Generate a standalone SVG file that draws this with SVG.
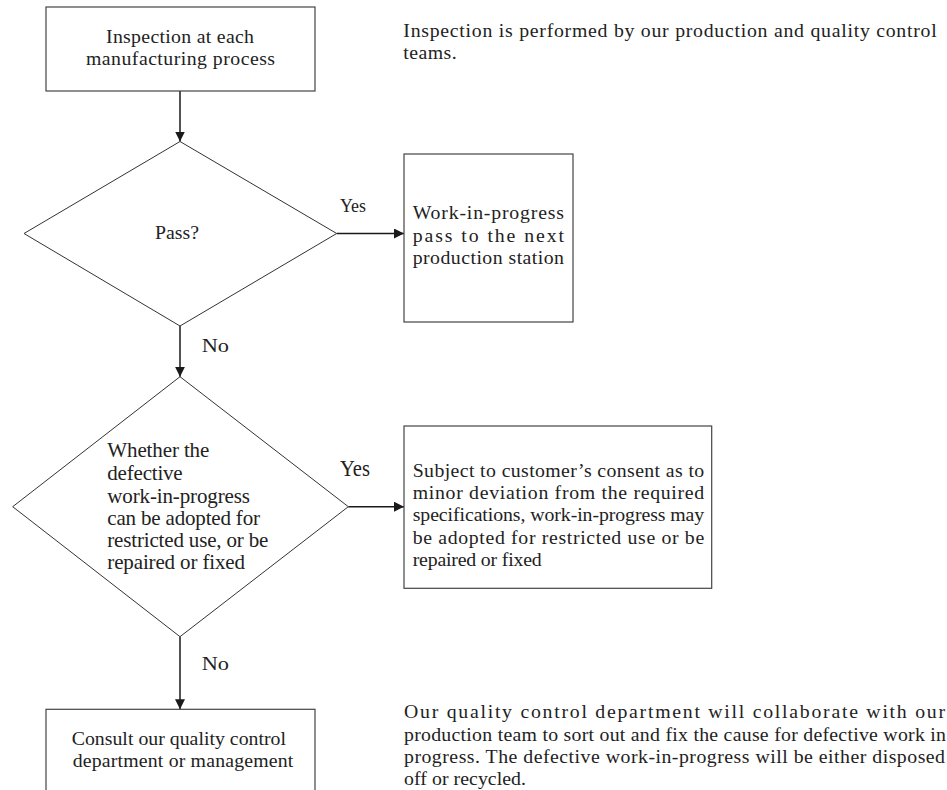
<svg xmlns="http://www.w3.org/2000/svg" width="947" height="790" viewBox="0 0 947 790">
  <style>
    .box { fill: #ffffff; stroke: #444444; stroke-width: 1.2; }
    .dec { fill: #ffffff; stroke: #333333; stroke-width: 1; }
    .edge { fill: none; stroke: #1a1a1a; stroke-width: 1.5; }
    text { font-family: "Liberation Serif", "Times New Roman", serif; font-size: 19.8px; fill: #222222; }
    .big { font-size: 21px; }
  </style>
  <defs>
    <marker id="arrow" markerUnits="userSpaceOnUse" markerWidth="12" markerHeight="12" refX="10" refY="5" orient="auto">
      <path d="M0,0 L10,5 L0,10 Z" fill="#1a1a1a"/>
    </marker>
  </defs>
  <rect width="947" height="790" fill="#ffffff"/>

  <!-- connectors -->
  <g id="connectors">
    <path class="edge" d="M180,91 L180,141.5" marker-end="url(#arrow)"/>
    <path class="edge" d="M336.7,233.5 L404,233.5" marker-end="url(#arrow)"/>
    <path class="edge" d="M180,326 L180,376.7" marker-end="url(#arrow)"/>
    <path class="edge" d="M348.3,506.7 L404,506.7" marker-end="url(#arrow)"/>
    <path class="edge" d="M180,636.7 L180,709.3" marker-end="url(#arrow)"/>
    <text x="340" y="212" textLength="26" lengthAdjust="spacingAndGlyphs">Yes</text>
    <text x="201.7" y="351.7" textLength="27.3" lengthAdjust="spacingAndGlyphs">No</text>
    <text x="340" y="476" textLength="30" lengthAdjust="spacingAndGlyphs" style="font-size:22.5px">Yes</text>
    <text x="201.7" y="669.5" textLength="27.3" lengthAdjust="spacingAndGlyphs">No</text>
  </g>

  <!-- inspection start -->
  <g id="inspect">
    <rect class="box" x="46" y="7" width="269" height="84"/>
    <text x="106" y="43" textLength="148" lengthAdjust="spacing">Inspection at each</text>
    <text x="86" y="65" textLength="189" lengthAdjust="spacing">manufacturing process</text>
  </g>

  <!-- first decision -->
  <g id="pass">
    <polygon class="dec" points="180,141.5 336.7,233.5 180,326 24,233.5"/>
    <text x="155" y="239" textLength="44" lengthAdjust="spacing">Pass?</text>
  </g>

  <!-- passed work -->
  <g id="next-station">
    <rect class="box" x="404" y="154" width="169" height="168"/>
    <text x="412.7" y="219.3" textLength="151.3" lengthAdjust="spacing">Work-in-progress</text>
    <text x="412.7" y="241.7" textLength="151.3" lengthAdjust="spacing">pass to the next</text>
    <text x="412.7" y="264" textLength="151.3" lengthAdjust="spacing">production station</text>
  </g>

  <!-- second decision -->
  <g id="adopt">
    <polygon class="dec" points="180,376.7 348.3,506.7 180,636.7 12.7,506.7"/>
    <text class="big" x="107.3" y="457.3" textLength="102" lengthAdjust="spacing">Whether the</text>
    <text class="big" x="107.3" y="480" textLength="75.4" lengthAdjust="spacing">defective</text>
    <text class="big" x="107.3" y="502.7" textLength="142.7" lengthAdjust="spacing">work-in-progress</text>
    <text class="big" x="107.3" y="524.5" textLength="152.7" lengthAdjust="spacing">can be adopted for</text>
    <text class="big" x="107.3" y="546.7" textLength="161" lengthAdjust="spacing">restricted use, or be</text>
    <text class="big" x="107.3" y="569.3" textLength="137.7" lengthAdjust="spacing">repaired or fixed</text>
  </g>

  <!-- restricted use -->
  <g id="restricted-use">
    <rect class="box" x="404" y="426" width="307.7" height="162.3"/>
    <text x="412.7" y="476.7" textLength="291.5" lengthAdjust="spacing">Subject to customer’s consent as to</text>
    <text x="412.7" y="499" textLength="291.5" lengthAdjust="spacing">minor deviation from the required</text>
    <text x="412.7" y="521.3" textLength="291.5" lengthAdjust="spacing">specifications, work-in-progress may</text>
    <text x="412.7" y="543.6" textLength="291.5" lengthAdjust="spacing">be adopted for restricted use or be</text>
    <text x="412.7" y="566" textLength="129" lengthAdjust="spacing">repaired or fixed</text>
  </g>

  <!-- consult -->
  <g id="consult">
    <rect class="box" x="46" y="709.3" width="269" height="100"/>
    <text x="71.7" y="745" textLength="214.3" lengthAdjust="spacing">Consult our quality control</text>
    <text x="72.7" y="767.3" textLength="220.6" lengthAdjust="spacing">department or management</text>
  </g>

  <!-- notes -->
  <g id="note-inspection">
    <text x="403.3" y="36.7" textLength="533.4" lengthAdjust="spacing">Inspection is performed by our production and quality control</text>
    <text x="403.3" y="59" textLength="53.4" lengthAdjust="spacing">teams.</text>
  </g>
  <g id="note-defective">
    <text x="404" y="718.3" textLength="541" lengthAdjust="spacing">Our quality control department will collaborate with our</text>
    <text x="404" y="740.6" textLength="542" lengthAdjust="spacing">production team to sort out and fix the cause for defective work in</text>
    <text x="404" y="762.7" textLength="541" lengthAdjust="spacing">progress. The defective work-in-progress will be either disposed</text>
    <text x="404" y="784.8" textLength="122" lengthAdjust="spacing">off or recycled.</text>
  </g>
</svg>
